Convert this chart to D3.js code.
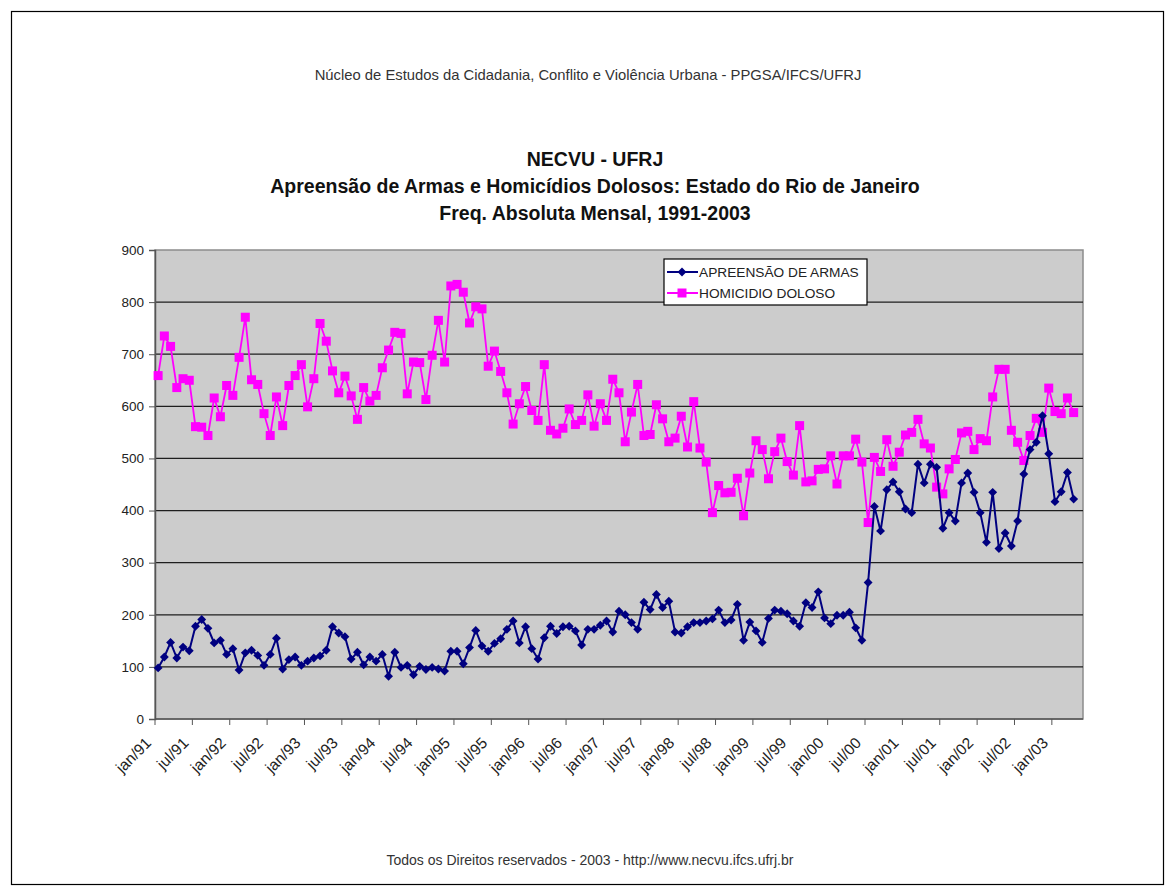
<!DOCTYPE html>
<html lang="pt">
  <head>
    <meta charset="utf-8" />
    <title>NECVU - Apreensão de Armas e Homicídios Dolosos</title>
    <script src="https://cdnjs.cloudflare.com/ajax/libs/d3/7.8.5/d3.min.js"></script>
    <style type="text/css">
      body {
        margin: 0;
        background: #fff;
      }
      text {
        font-family: "Liberation Sans", Arial, sans-serif;
      }
    </style>
  </head>

  <body>
    <script>
      // monthly series, jan/91 .. apr/03 (may/03 slot is empty on the axis)
      const apreensaoArmas = [
        98, 119, 147, 117, 138, 131, 178, 191, 174, 146, 151, 124,
        135, 94, 127, 132, 122, 103, 124, 155, 96, 114, 119, 103,
        111, 117, 121, 132, 177, 165, 158, 115, 128, 104, 119, 111,
        124, 82, 128, 99, 103, 85, 101, 95, 99, 96, 92, 130,
        130, 106, 137, 170, 140, 130, 145, 154, 172, 188, 146, 177,
        135, 115, 156, 178, 164, 177, 178, 169, 142, 172, 172, 180,
        188, 167, 207, 200, 185, 172, 224, 210, 239, 214, 226, 167,
        165, 177, 185, 185, 188, 192, 209, 185, 190, 220, 151, 186,
        169, 147, 193, 209, 207, 202, 188, 178, 223, 214, 244, 194,
        183, 199, 199, 205, 175, 151, 262, 408, 361, 440, 455, 436,
        403, 396, 489, 453, 489, 483, 366, 396, 380, 453, 472, 435,
        396, 339, 435, 327, 357, 332, 380, 470, 517, 531, 582, 509,
        417, 436, 473, 422
      ];

      const homicidioDoloso = [
        659, 735, 715, 636, 653, 650, 561, 560, 544, 616, 580, 640,
        621, 694, 771, 651, 642, 586, 544, 618, 563, 640, 659, 680,
        599, 653, 759, 725, 668, 626, 658, 620, 575, 636, 610, 621,
        674, 708, 742, 740, 624, 685, 684, 613, 698, 765, 685, 831,
        834, 819, 760, 791, 787, 677, 706, 667, 626, 566, 605, 638,
        592, 573, 680, 554, 547, 558, 595, 565, 573, 622, 562, 605,
        573, 652, 626, 532, 589, 642, 544, 546, 603, 576, 532, 539,
        581, 522, 609, 520, 493, 396, 448, 434, 435, 462, 390, 472,
        534, 517, 461, 513, 539, 494, 468, 563, 455, 457, 479, 480,
        505, 451, 505, 505, 537, 493, 377, 502, 475, 536, 485, 512,
        545, 550, 575, 528, 520, 445, 432, 480, 498, 549, 552, 517,
        538, 534, 618, 671, 671, 554, 531, 496, 544, 577, 550, 635,
        590, 586, 616, 588
      ];

      const tickLabels = [
        "jan/91", "jul/91", "jan/92", "jul/92", "jan/93", "jul/93", "jan/94",
        "jul/94", "jan/95", "jul/95", "jan/96", "jul/96", "jan/97", "jul/97",
        "jan/98", "jul/98", "jan/99", "jul/99", "jan/00", "jul/00", "jan/01",
        "jul/01", "jan/02", "jul/02", "jan/03"
      ];

      const seriesNames = ["APREENSÃO DE ARMAS", "HOMICIDIO DOLOSO"];
      const yTicks = [0, 100, 200, 300, 400, 500, 600, 700, 800, 900];

      // category axis: jan/91 .. may/03
      const months = d3.timeMonth.range(new Date(1991, 0, 1), new Date(2003, 5, 1));

      const width = 1175;
      const height = 896;
      const marginTop = 250;
      const marginRight = 92;
      const marginBottom = 177;
      const marginLeft = 155;

      const blue = "#000080";
      const pink = "#ff00ff";

      const svg = d3
        .select("body")
        .append("svg")
        .attr("width", width)
        .attr("height", height)
        .attr("viewBox", [0, 0, width, height]);

      // page frame
      svg.append("rect")
        .attr("x", 11.5)
        .attr("y", 11.5)
        .attr("width", 1152)
        .attr("height", 873)
        .attr("fill", "#fff")
        .attr("stroke", "#000")
        .attr("stroke-width", 1.2);

      const x = d3.scaleBand()
        .domain(months)
        .range([marginLeft, width - marginRight])
        .padding(0);

      const y = d3.scaleLinear()
        .domain([0, 900])
        .range([height - marginBottom, marginTop]);

      const cx = (i) => x(months[i]) + x.bandwidth() / 2;

      // plot area
      svg.append("rect")
        .attr("x", marginLeft)
        .attr("y", marginTop)
        .attr("width", width - marginRight - marginLeft)
        .attr("height", height - marginBottom - marginTop)
        .attr("fill", "#cccccc")
        .attr("stroke", "#8c8c8c")
        .attr("stroke-width", 1.5);

      // gridlines
      svg.append("g")
        .selectAll("line")
        .data(yTicks.filter((d) => d > 0 && d < 900))
        .join("line")
        .attr("x1", marginLeft)
        .attr("x2", width - marginRight)
        .attr("y1", (d) => y(d))
        .attr("y2", (d) => y(d))
        .attr("stroke", "#1e1e1e")
        .attr("stroke-width", 1.2);

      // y axis
      const yAxis = d3.axisLeft(y)
        .tickValues(yTicks)
        .tickSize(6)
        .tickPadding(5);

      svg.append("g")
        .attr("transform", `translate(${marginLeft},0)`)
        .call(yAxis)
        .call((g) => g.select(".domain").attr("stroke", "#555").attr("stroke-width", 1.5))
        .call((g) => g.selectAll(".tick line").attr("stroke", "#555"))
        .call((g) => g.selectAll(".tick text")
          .attr("font-size", 13.5)
          .attr("fill", "#222"));

      // x axis: ticks every six months on the category boundaries
      const xTickIdx = d3.range(0, months.length, 6);
      const xAxisG = svg.append("g")
        .attr("transform", `translate(0,${height - marginBottom})`);

      xAxisG.append("line")
        .attr("x1", marginLeft)
        .attr("x2", width - marginRight)
        .attr("stroke", "#555")
        .attr("stroke-width", 1.5);

      xAxisG.selectAll(".tick")
        .data(xTickIdx)
        .join("line")
        .attr("class", "tick")
        .attr("x1", (i) => x(months[i]))
        .attr("x2", (i) => x(months[i]))
        .attr("y1", 0)
        .attr("y2", 6)
        .attr("stroke", "#555");

      xAxisG.selectAll(".lbl")
        .data(tickLabels)
        .join("text")
        .attr("class", "lbl")
        .attr("transform", (d, k) => `translate(${cx(xTickIdx[k]) - 6},25) rotate(-45)`)
        .attr("text-anchor", "end")
        .attr("font-size", 15.5)
        .attr("fill", "#222")
        .text((d) => d);

      // lines
      const line = d3.line()
        .x((d, i) => cx(i))
        .y((d) => y(d));

      svg.append("path")
        .attr("fill", "none")
        .attr("stroke", pink)
        .attr("stroke-width", 1.8)
        .attr("d", line(homicidioDoloso));

      svg.append("g")
        .selectAll("rect")
        .data(homicidioDoloso)
        .join("rect")
        .attr("x", (d, i) => cx(i) - 4.5)
        .attr("y", (d) => y(d) - 4.5)
        .attr("width", 9)
        .attr("height", 9)
        .attr("fill", pink);

      svg.append("path")
        .attr("fill", "none")
        .attr("stroke", blue)
        .attr("stroke-width", 2)
        .attr("d", line(apreensaoArmas));

      const diamond = d3.symbol().type(d3.symbolDiamond2).size(50);

      svg.append("g")
        .selectAll("path")
        .data(apreensaoArmas)
        .join("path")
        .attr("transform", (d, i) => `translate(${cx(i)},${y(d)})`)
        .attr("d", diamond)
        .attr("fill", blue);

      // legend
      const legend = svg.append("g").attr("transform", "translate(664,259)");
      legend.append("rect")
        .attr("width", 203)
        .attr("height", 46)
        .attr("fill", "#fff")
        .attr("stroke", "#000")
        .attr("stroke-width", 1.2);

      const rows = legend.selectAll(".row")
        .data(seriesNames)
        .join("g")
        .attr("class", "row")
        .attr("transform", (d, i) => `translate(0,${13 + i * 21})`);

      rows.append("line")
        .attr("x1", 3)
        .attr("x2", 34)
        .attr("stroke", (d, i) => (i === 0 ? blue : pink))
        .attr("stroke-width", 2);

      rows.append("path")
        .attr("transform", "translate(18,0)")
        .attr("d", (d, i) => i === 0
          ? diamond()
          : d3.symbol().type(d3.symbolSquare).size(81)())
        .attr("fill", (d, i) => (i === 0 ? blue : pink));

      rows.append("text")
        .attr("x", 35)
        .attr("dy", "0.35em")
        .attr("font-size", 13.7)
        .attr("fill", "#222")
        .text((d) => d);

      // titles
      svg.append("text")
        .attr("x", 588)
        .attr("y", 80)
        .attr("text-anchor", "middle")
        .attr("font-size", 14.8)
        .attr("fill", "#333")
        .text("Núcleo de Estudos da Cidadania, Conflito e Violência Urbana - PPGSA/IFCS/UFRJ");

      const titles = [
        "NECVU - UFRJ",
        "Apreensão de Armas e Homicídios Dolosos: Estado do Rio de Janeiro",
        "Freq. Absoluta Mensal, 1991-2003"
      ];
      svg.append("g")
        .selectAll("text")
        .data(titles)
        .join("text")
        .attr("x", 595)
        .attr("y", (d, i) => 166 + i * 27)
        .attr("text-anchor", "middle")
        .attr("font-size", 19.5)
        .attr("font-weight", "bold")
        .attr("fill", "#111")
        .text((d) => d);

      svg.append("text")
        .attr("x", 590)
        .attr("y", 865)
        .attr("text-anchor", "middle")
        .attr("font-size", 14)
        .attr("fill", "#333")
        .text("Todos os Direitos reservados - 2003 - http://www.necvu.ifcs.ufrj.br");
    </script>
  </body>
</html>
